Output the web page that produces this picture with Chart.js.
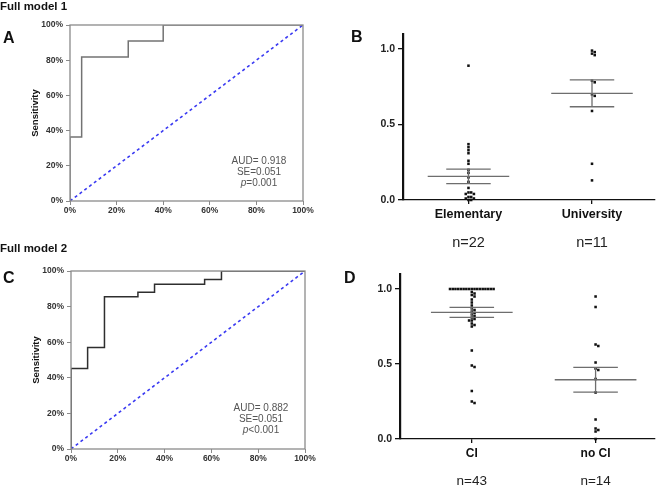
<!DOCTYPE html>
<html>
<head>
<meta charset="utf-8">
<script src="https://cdn.jsdelivr.net/npm/chart.js@4.4.1/dist/chart.umd.min.js"></script>
<style>
  body { margin: 0; background: #fff; }
  #wrap { position: relative; width: 660px; height: 485px; font-family: "Liberation Sans", Arial, sans-serif; }
  #wrap canvas { position: absolute; left: 0; top: 0; }
  .lbl { position: absolute; font-weight: bold; color: #111; white-space: nowrap; line-height: 1; }
  .head { font-size: 11.5px; }
  .letter { font-size: 16px; }
  .note { position: absolute; width: 90px; font-size: 10px; line-height: 11px; color: #555; text-align: center; }
</style>
</head>
<body>
<div id="wrap">
  <canvas id="rocA" width="660" height="485"></canvas>
  <canvas id="dotB" width="660" height="485"></canvas>
  <canvas id="rocC" width="660" height="485"></canvas>
  <canvas id="dotD" width="660" height="485"></canvas>

  <div class="lbl head" style="left:0;top:1px">Full model 1</div>
  <div class="lbl head" style="left:0;top:243px">Full model 2</div>
  <div class="lbl letter" style="left:3px;top:30px">A</div>
  <div class="lbl letter" style="left:351px;top:29px">B</div>
  <div class="lbl letter" style="left:3px;top:270px">C</div>
  <div class="lbl letter" style="left:344px;top:270px">D</div>

  <div class="note" style="left:214px;top:155px">AUD= 0.918<br>SE=0.051<br><i>p</i>=0.001</div>
  <div class="note" style="left:216px;top:402px">AUD= 0.882<br>SE=0.051<br><i>p</i>&lt;0.001</div>
</div>

<script>
/* ======================
   DATA
====================== */
// ROC curves: false positive rate (%) / sensitivity (%)
const rocA_fpr = [0, 0, 5, 5, 25, 25, 40, 40, 100];
const rocA_tpr = [0, 36.4, 36.4, 81.8, 81.8, 90.9, 90.9, 100, 100];

const rocC_fpr = [0, 0, 7.1, 7.1, 14.3, 14.3, 28.6, 28.6, 35.7, 35.7, 57.1, 57.1, 64.3, 64.3, 100];
const rocC_tpr = [0, 45.2, 45.2, 57.0, 57.0, 85.6, 85.6, 88.0, 88.0, 92.5, 92.5, 95.2, 95.2, 100, 100];

const pctTicks = [0, 20, 40, 60, 80, 100];

// dot plots
const groupsB = ["Elementary", "University"];
const countsB = ["n=22", "n=11"];
const elementary = [0.89, 0.37, 0.35, 0.33, 0.31, 0.26, 0.24, 0.20, 0.18, 0.15, 0.12,
                    0.08, 0.05, 0.05, 0.04, 0.04, 0.02, 0.02, 0.01, 0.01, 0.0, 0.0];
const university = [0.99, 0.98, 0.97, 0.96, 0.79, 0.78, 0.70, 0.69, 0.59, 0.24, 0.13];
const meanB = [0.156, 0.707];
const semB = [0.048, 0.089];

const groupsD = ["CI", "no CI"];
const countsD = ["n=43", "n=14"];
const ci = [1, 1, 1, 1, 1, 1, 1, 1, 1, 1, 1, 1, 1, 1, 1, 1, 1,
            0.98, 0.97, 0.96, 0.95, 0.93, 0.91, 0.89, 0.87, 0.86, 0.85,
            0.84, 0.83, 0.82, 0.81, 0.80, 0.79, 0.79, 0.77, 0.76, 0.75,
            0.59, 0.49, 0.48, 0.32, 0.25, 0.24];
const noCi = [0.95, 0.88, 0.63, 0.62, 0.51, 0.47, 0.46, 0.40, 0.31, 0.13, 0.07, 0.06, 0.05, 0.0];
const meanD = [0.844, 0.395];
const semD = [0.033, 0.082];

const dotTicks = [0, 0.5, 1.0];

/* ======================
   HELPERS
====================== */
const W = 660, H = 485;
const FONT = "'Liberation Sans', Arial, sans-serif";

const base = {
  responsive: false,
  animation: false,
  devicePixelRatio: 1,
  plugins: { legend: { display: false }, tooltip: { enabled: false } }
};

// gray box around the ROC plot area
const frameBox = {
  id: "frameBox",
  afterDatasetsDraw(chart, args, opts) {
    const a = chart.chartArea, ctx = chart.ctx;
    ctx.save();
    ctx.strokeStyle = opts.color || "#888";
    ctx.lineWidth = 1.3;
    ctx.strokeRect(a.left, a.top, a.right - a.left, a.bottom - a.top);
    ctx.restore();
  }
};

function pairs(xs, ys) {
  return xs.map((x, i) => ({ x, y: ys[i] }));
}

// spread points with close values sideways (beeswarm)
const DX = 0.022, DY = 0.018;
function swarm(values, idx) {
  const placed = [];
  return values.slice().sort((a, b) => b - a).map(v => {
    let off = 0;
    for (let n = 0; n < 60; n++) {
      off = n === 0 ? 0 : (n % 2 ? 1 : -1) * Math.ceil(n / 2) * DX;
      const hit = placed.some(p => Math.abs(p.v - v) < DY && Math.abs(p.off - off) < DX * 0.5);
      if (!hit) break;
    }
    placed.push({ v, off });
    return { x: idx + off, y: v };
  });
}

// mean line + SEM whiskers, segments split by gaps
const MEAN_HALF = 0.33, SEM_HALF = 0.18;
function summary(means, sems) {
  const pts = [];
  means.forEach((m, i) => {
    const s = sems[i];
    pts.push({ x: i - MEAN_HALF, y: m }, { x: i + MEAN_HALF, y: m }, { x: i, y: null });
    pts.push({ x: i - SEM_HALF, y: m + s }, { x: i + SEM_HALF, y: m + s }, { x: i, y: null });
    pts.push({ x: i - SEM_HALF, y: m - s }, { x: i + SEM_HALF, y: m - s }, { x: i, y: null });
    pts.push({ x: i, y: m - s }, { x: i, y: m + s }, { x: i, y: null });
  });
  return pts;
}

/* ======================
   ROC PANEL
====================== */
function rocChart(id, fpr, tpr, box, curveColor, frameColor) {
  const YW = 40, XH = 20;
  new Chart(document.getElementById(id), {
    type: "scatter",
    data: {
      datasets: [
        {
          data: pairs(fpr, tpr),
          showLine: true,
          borderColor: curveColor,
          borderWidth: 1.5,
          pointRadius: 0
        },
        {
          data: pairs([0, 100], [0, 100]),
          showLine: true,
          borderColor: "#3a3af2",
          borderWidth: 1.6,
          borderDash: [3, 3],
          pointRadius: 0
        }
      ]
    },
    options: {
      ...base,
      layout: { padding: { left: box.L - YW, top: box.T, right: W - box.R, bottom: H - box.B - XH } },
      plugins: { ...base.plugins, frameBox: { color: frameColor } },
      scales: {
        x: {
          type: "linear", min: 0, max: 100,
          afterBuildTicks: s => { s.ticks = pctTicks.map(v => ({ value: v })); },
          afterFit: s => { s.height = XH; },
          border: { display: false },
          grid: { drawOnChartArea: false, tickLength: 4, color: frameColor },
          ticks: { padding: 1, color: "#333", font: { family: FONT, size: 8.5, weight: "bold" }, callback: v => v + "%" }
        },
        y: {
          type: "linear", min: 0, max: 100,
          afterBuildTicks: s => { s.ticks = pctTicks.map(v => ({ value: v })); },
          afterFit: s => { s.width = YW; },
          border: { display: false },
          grid: { drawOnChartArea: false, tickLength: 4, color: frameColor },
          ticks: { padding: 3, color: "#333", font: { family: FONT, size: 8.5, weight: "bold" }, callback: v => v + "%" },
          title: { display: true, text: "Sensitivity", color: "#111", padding: 0, font: { family: FONT, size: 9.5, weight: "bold" } }
        }
      }
    },
    plugins: [frameBox]
  });
}

/* ======================
   DOT PANEL
====================== */
function dotChart(id, groups, counts, values, means, sems, box, xmin, xmax, fonts, x2h) {
  const YW = 40, XH = 22;
  const pts = [];
  values.forEach((vals, i) => pts.push(...swarm(vals, i)));
  const catTicks = s => { s.ticks = groups.map((g, i) => ({ value: i })); };

  new Chart(document.getElementById(id), {
    type: "scatter",
    data: {
      datasets: [
        {
          data: summary(means, sems),
          showLine: true,
          spanGaps: false,
          borderColor: "#6e6e6e",
          borderWidth: 1.3,
          pointRadius: 0
        },
        {
          data: pts,
          pointStyle: "rect",
          pointRadius: 1.8,
          backgroundColor: "#111",
          borderWidth: 0,
          clip: false
        }
      ]
    },
    options: {
      ...base,
      layout: { padding: { left: box.L - YW, top: box.T, right: W - box.R, bottom: H - box.B - XH - x2h } },
      scales: {
        x: {
          type: "linear", min: xmin, max: xmax, weight: 0,
          afterBuildTicks: catTicks,
          afterFit: s => { s.height = XH; },
          border: { color: "#111", width: 1.3 },
          grid: { drawOnChartArea: false, tickLength: 4, color: "#111", lineWidth: 1.3 },
          ticks: { padding: 3.5, color: "#111", font: { family: FONT, size: fonts[0], weight: "bold" }, callback: v => groups[v] }
        },
        x2: {
          type: "linear", position: "bottom", min: xmin, max: xmax, weight: 1,
          afterBuildTicks: catTicks,
          afterFit: s => { s.height = x2h; },
          border: { display: false },
          grid: { display: false, drawTicks: false },
          ticks: { padding: 12, color: "#222", font: { family: FONT, size: fonts[1] }, callback: v => counts[v] }
        },
        y: {
          type: "linear", min: 0, max: 1.1,
          afterBuildTicks: s => { s.ticks = dotTicks.map(v => ({ value: v })); },
          afterFit: s => { s.width = YW; },
          border: { color: "#111", width: 2.2 },
          grid: { drawOnChartArea: false, tickLength: 5, color: "#111", lineWidth: 1.3 },
          ticks: { padding: 3, color: "#222", font: { family: FONT, size: 10.5, weight: "bold" }, callback: v => v.toFixed(1) }
        }
      }
    }
  });
}

/* ======================
   INIT
====================== */
rocChart("rocA", rocA_fpr, rocA_tpr, { L: 70, T: 25, R: 303, B: 201 }, "#737373", "#8a8a8a");
rocChart("rocC", rocC_fpr, rocC_tpr, { L: 71, T: 271, R: 305, B: 449 }, "#2e2e2e", "#8a8a8a");

dotChart("dotB", groupsB, countsB, [elementary, university], meanB, semB,
  { L: 403, T: 34, R: 655, B: 200 }, -0.53, 1.51, [12.5, 14.5], 34);
dotChart("dotD", groupsD, countsD, [ci, noCi], meanD, semD,
  { L: 400, T: 274, R: 655, B: 439 }, -0.58, 1.48, [12, 13.5], 24);
</script>
</body>
</html>
